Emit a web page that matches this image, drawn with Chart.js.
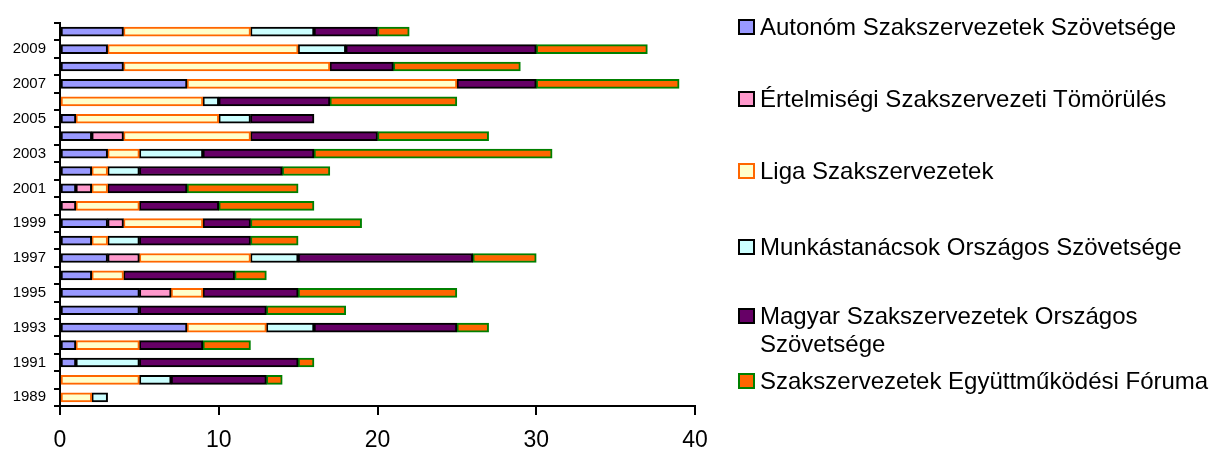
<!DOCTYPE html>
<html>
<head>
<meta charset="utf-8">
<script src="https://cdn.jsdelivr.net/npm/chart.js@4.4.1/dist/chart.umd.min.js"></script>
<style>
  html, body { margin: 0; padding: 0; background: #fff; }
  #wrap { position: relative; width: 1212px; height: 450px; }
  #legend { position: absolute; left: 0; top: 0; font-family: "Liberation Sans", Arial, sans-serif; font-size: 24px; color: #000; }
  .item { position: absolute; left: 738px; white-space: pre; line-height: 28px; }
  .box { position: absolute; left: 0; top: 6px; width: 17px; height: 16px; box-sizing: border-box; border: 2px solid #000; }
  .txt { position: absolute; left: 22px; top: 0; }
</style>
</head>
<body>
<div id="wrap">
  <canvas id="chart" width="1212" height="450"></canvas>
  <div id="legend"></div>
</div>
<script>
// évek (alulról felfelé)
const years = [1989, 1990, 1991, 1992, 1993, 1994, 1995, 1996, 1997, 1998, 1999,
               2000, 2001, 2002, 2003, 2004, 2005, 2006, 2007, 2008, 2009, 2010];

const seriesNames = [
    'Autonóm Szakszervezetek Szövetsége',
    'Értelmiségi Szakszervezeti Tömörülés',
    'Liga Szakszervezetek',
    'Munkástanácsok Országos Szövetsége',
    'Magyar Szakszervezetek Országos\nSzövetsége',
    'Szakszervezetek Együttműködési Fóruma'
];

const autonom    = [0, 0, 1, 1, 8, 5, 5, 2, 3, 2, 3, 0, 1, 2, 3, 2, 1, 0, 8, 4, 3, 4];
const ertelmisegi = [0, 0, 0, 0, 0, 0, 2, 0, 2, 0, 1, 1, 1, 0, 0, 2, 0, 0, 0, 0, 0, 0];
const liga       = [2, 5, 0, 4, 5, 0, 2, 2, 7, 1, 5, 4, 1, 1, 2, 8, 9, 9, 17, 13, 12, 8];
const munkas     = [1, 2, 4, 0, 3, 0, 0, 0, 3, 2, 0, 0, 0, 2, 4, 0, 2, 1, 0, 0, 3, 4];
const mszosz     = [0, 6, 10, 4, 9, 8, 6, 7, 11, 7, 3, 5, 5, 9, 7, 8, 4, 7, 5, 4, 12, 4];
const szef       = [0, 1, 1, 3, 2, 5, 10, 2, 4, 3, 7, 6, 7, 3, 15, 7, 0, 8, 9, 8, 7, 2];

const fillColors   = ['#9999FF', '#FF99CC', '#FFFFCC', '#CCFFFF', '#660066', '#FF6600'];
const borderColors = ['#000000', '#000000', '#FF6600', '#000000', '#000000', '#008000'];

const xTicks = [0, 10, 20, 30, 40];

const FONT = '"Liberation Sans", Arial, sans-serif';

const seriesValues = [autonom, ertelmisegi, liga, munkas, mszosz, szef];

const datasets = seriesValues.map(function (vals, i) {
    return {
        label: seriesNames[i],
        data: vals,
        backgroundColor: fillColors[i],
        borderColor: borderColors[i],
        borderWidth: 2,
        borderSkipped: false,
        barThickness: 9
    };
});

new Chart(document.getElementById('chart'), {
    type: 'bar',
    data: { labels: years.map(String), datasets: datasets },
    options: {
        indexAxis: 'y',
        responsive: false,
        animation: false,
        layout: { padding: { top: 23, right: 517, left: 0, bottom: 0 } },
        plugins: { legend: { display: false }, tooltip: { enabled: false } },
        scales: {
            x: {
                stacked: true,
                min: xTicks[0],
                max: xTicks[xTicks.length - 1],
                afterBuildTicks: function (s) { s.ticks = xTicks.map(function (v) { return { value: v }; }); },
                ticks: { color: '#000', font: { family: FONT, size: 23 }, padding: 12, maxRotation: 0 },
                grid: { drawOnChartArea: false, drawTicks: true, tickLength: 9, color: '#000', lineWidth: 2 },
                border: { color: '#000', width: 2 },
                afterFit: function (s) { s.height = 44; }
            },
            y: {
                stacked: true,
                reverse: true,
                ticks: {
                    autoSkip: false,
                    color: '#000',
                    font: { family: FONT, size: 15 },
                    padding: 8,
                    callback: function (v, i) { return years[i] % 2 ? String(years[i]) : ''; }
                },
                grid: { drawOnChartArea: false, drawTicks: true, tickLength: 6, color: '#000', lineWidth: 2, offset: true },
                border: { color: '#000', width: 2 },
                afterFit: function (s) { s.width = 60; }
            }
        }
    }
});

// jelmagyarázat
const legendTops = [13, 85, 157, 233, 302, 367];
const legend = document.getElementById('legend');
seriesNames.forEach(function (name, i) {
    const item = document.createElement('div');
    item.className = 'item';
    item.style.top = legendTops[i] + 'px';
    const box = document.createElement('span');
    box.className = 'box';
    box.style.background = fillColors[i];
    box.style.borderColor = borderColors[i];
    const txt = document.createElement('span');
    txt.className = 'txt';
    txt.textContent = name;
    item.appendChild(box);
    item.appendChild(txt);
    legend.appendChild(item);
});
</script>
</body>
</html>
